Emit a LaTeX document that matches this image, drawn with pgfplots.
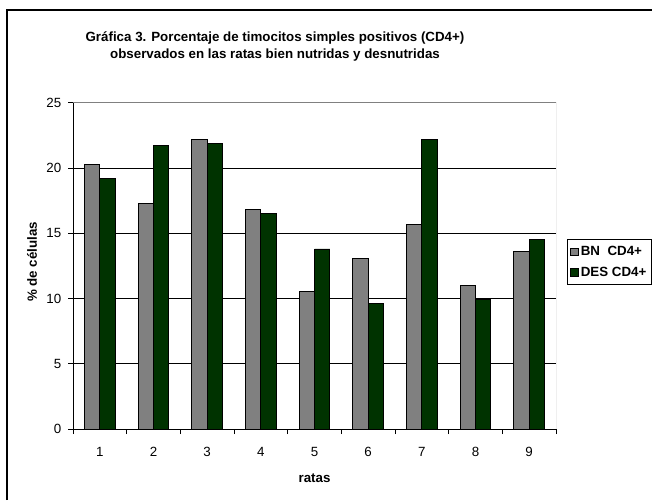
\documentclass[border=0pt]{standalone}
\usepackage{fontspec}
\setmainfont{Liberation Sans}
\usepackage{pgfplots}
\pgfplotsset{compat=1.18}
\definecolor{bngray}{HTML}{808080}
\definecolor{desgreen}{HTML}{003300}

\begin{document}
\begin{tikzpicture}[x=0.75pt,y=0.75pt]
\useasboundingbox (0,0) rectangle (652,500);
% outer chart border (only left and top visible)
\draw[line width=1pt] (7,0) -- (7,490) -- (652,490);
\node[align=center, font=\bfseries\fontsize{10}{12.75}\selectfont] at (275,453.5)
  {Gráfica 3. Porcentaje de timocitos simples positivos (CD4+)\\
   observados en las ratas bien nutridas y desnutridas};

\begin{axis}[
    at={(54.75pt,53.25pt)}, anchor=south west,
    width=362.25pt, height=244.7pt, scale only axis,
    xmin=0.5, xmax=9.5, ymin=0, ymax=25,
    xtick={1,...,9},
    minor xtick={0.5,1.5,...,9.5},
    ytick={0,5,...,25},
    major x tick style={draw=none},
    tick align=outside,
    major tick length=3.75pt, minor tick length=3.75pt,
    tick style={black, line width=0.6pt},
    ymajorgrids,
    grid style={black, line width=0.6pt},
    axis x line*=bottom, axis y line*=left,
    axis line style={black, line width=0.75pt, -},
    ticklabel style={font=\fontsize{10}{12}\selectfont},
    xticklabel style={yshift=-6.5pt},
    yticklabel style={xshift=-1.5pt},
    /pgf/number format/assume math mode=true,
    xlabel={ratas}, ylabel={\% de células},
    every axis x label/.style={at={(axis description cs:0.5,-0.150)}, anchor=center,
      font=\bfseries\fontsize{10}{12}\selectfont},
    every axis y label/.style={at={(axis description cs:-0.085,0.512)}, rotate=90, anchor=center,
      font=\bfseries\fontsize{10}{12}\selectfont},
    ybar, bar width=0.285,
    legend style={at={(1,0.582)}, anchor=north west, xshift=8.25pt,
      draw=black, line width=0.6pt, font=\bfseries\fontsize{10}{12}\selectfont,
      inner xsep=2pt, inner ysep=3pt, row sep=3pt},
    legend cell align=left,
    legend image code/.code={\draw[#1, line width=0.5pt] (0pt,-2.8pt) rectangle (5.6pt,2.8pt);},
]
\addplot[fill=bngray, draw=black, line width=0.6pt, bar shift=-0.1425] coordinates {
  (1,20.3) (2,17.25) (3,22.2) (4,16.85) (5,10.55) (6,13.05) (7,15.7) (8,11.0) (9,13.6)
};
\addlegendentry{BN~~CD4+}
\addplot[fill=desgreen, draw=black, line width=0.6pt, bar shift=0.1425] coordinates {
  (1,19.2) (2,21.7) (3,21.9) (4,16.5) (5,13.8) (6,9.65) (7,22.2) (8,9.95) (9,14.5)
};
\addlegendentry{DES CD4+}
\draw[bngray, line width=0.75pt] (rel axis cs:0,1) -- (rel axis cs:1,1) -- (rel axis cs:1,0);
\end{axis}
\end{tikzpicture}
\end{document}
